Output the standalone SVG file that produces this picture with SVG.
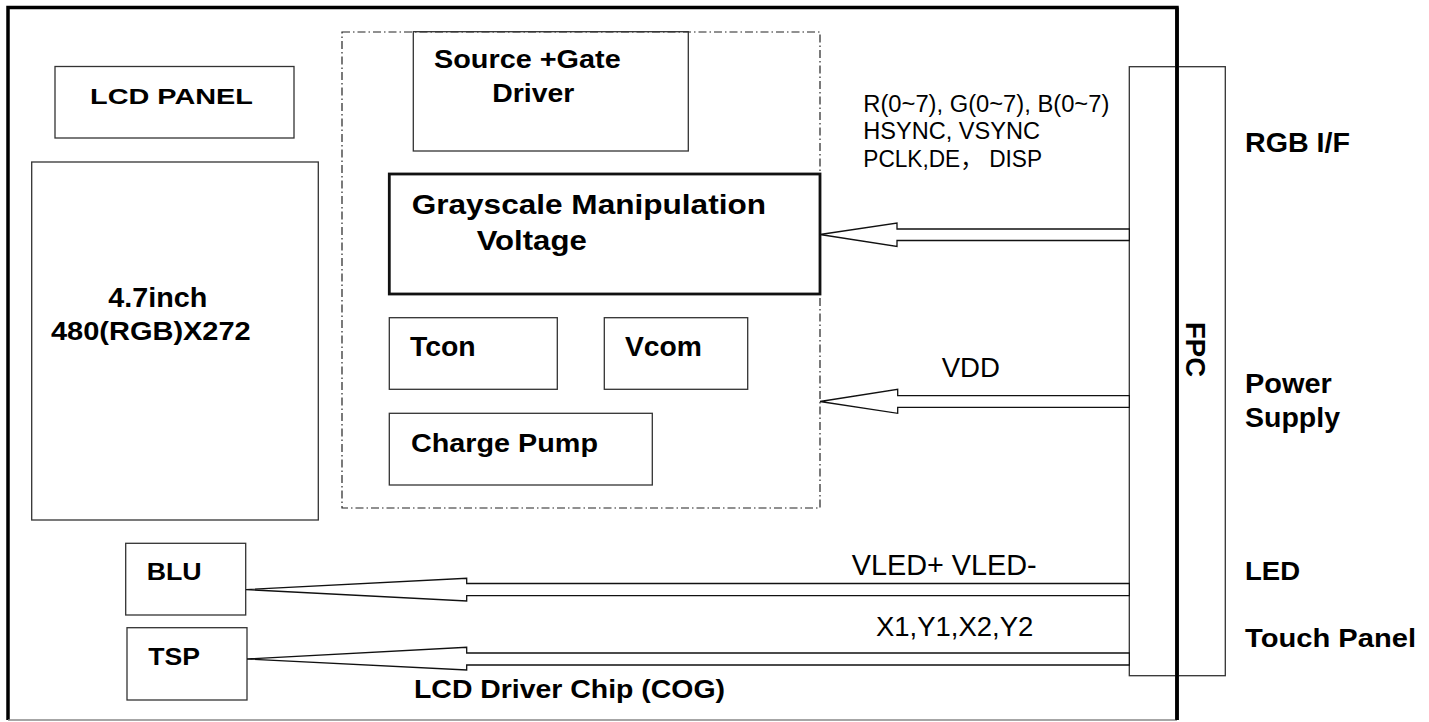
<svg xmlns="http://www.w3.org/2000/svg" width="1429" height="722" viewBox="0 0 1429 722">
<style>
.box{fill:none;stroke:#333;stroke-width:1.3}
.thick{fill:none;stroke:#111;stroke-width:2.8}
.dash{fill:none;stroke:#222;stroke-width:1.2;stroke-dasharray:8 3 1.5 3}
.arrow{fill:#fff;stroke:#111;stroke-width:1.3;stroke-linejoin:miter}
.b{font-family:"Liberation Sans",Arial,sans-serif;font-weight:bold;fill:#000}
.r{font-family:"Liberation Sans",Arial,"Noto Sans CJK SC",sans-serif;fill:#000}
</style>
<rect width="1429" height="722" fill="#fff"/>
<g id="frame">
<path d="M8,720 L8,7.5 L1177,7.5 L1177,720" fill="none" stroke="#000" stroke-width="3.5"/>
<line x1="8" y1="720" x2="1177" y2="720" stroke="#888" stroke-width="1.5"/>
</g>
<g id="driver-chip">
<rect class="dash" x="342" y="32" width="478" height="476"/>
<text class="b" x="414" y="698" font-size="25.6" textLength="311" lengthAdjust="spacingAndGlyphs">LCD Driver Chip (COG)</text>
</g>
<g id="lcd-panel">
<rect class="box" x="55" y="66.5" width="239" height="71.5"/>
<text class="b" x="90" y="104" font-size="22" textLength="163" lengthAdjust="spacingAndGlyphs">LCD PANEL</text>
</g>
<g id="panel">
<rect class="box" x="31.7" y="162" width="286.6" height="358"/>
<text class="b" x="108.3" y="306.7" font-size="28" textLength="99" lengthAdjust="spacingAndGlyphs">4.7inch</text>
<text class="b" x="51" y="340" font-size="26.5" textLength="199.7" lengthAdjust="spacingAndGlyphs">480(RGB)X272</text>
</g>
<g id="source-gate">
<rect class="box" x="413.3" y="31.7" width="275" height="119.3"/>
<text class="b" x="434" y="68.3" font-size="26.5" textLength="186.7" lengthAdjust="spacingAndGlyphs">Source +Gate</text>
<text class="b" x="492.3" y="101.7" font-size="26.5" textLength="82" lengthAdjust="spacingAndGlyphs">Driver</text>
</g>
<g id="grayscale">
<rect class="thick" x="389.3" y="174" width="430.7" height="120"/>
<text class="b" x="411.7" y="214" font-size="27.5" textLength="354.3" lengthAdjust="spacingAndGlyphs">Grayscale Manipulation</text>
<text class="b" x="476.7" y="250" font-size="27.5" textLength="110" lengthAdjust="spacingAndGlyphs">Voltage</text>
</g>
<g id="tcon">
<rect class="box" x="389.3" y="317.7" width="168" height="71.6"/>
<text class="b" x="410" y="356" font-size="28" textLength="65.7" lengthAdjust="spacingAndGlyphs">Tcon</text>
</g>
<g id="vcom">
<rect class="box" x="604.3" y="317.7" width="143.4" height="71.6"/>
<text class="b" x="625" y="356" font-size="28" textLength="77" lengthAdjust="spacingAndGlyphs">Vcom</text>
</g>
<g id="charge-pump">
<rect class="box" x="389.3" y="413.3" width="263" height="71.7"/>
<text class="b" x="411" y="452" font-size="26.5" textLength="187" lengthAdjust="spacingAndGlyphs">Charge Pump</text>
</g>
<g id="blu">
<rect class="box" x="125.7" y="543.3" width="120" height="71.7"/>
<text class="b" x="146.7" y="580" font-size="24.7" textLength="55" lengthAdjust="spacingAndGlyphs">BLU</text>
</g>
<g id="tsp">
<rect class="box" x="127" y="627.7" width="120" height="72.3"/>
<text class="b" x="148.3" y="665" font-size="24.7" textLength="51.7" lengthAdjust="spacingAndGlyphs">TSP</text>
</g>
<g id="fpc">
<rect class="box" x="1129.3" y="66.7" width="96" height="609"/>
<line x1="1177" y1="7.5" x2="1177" y2="720" stroke="#000" stroke-width="3.5"/>
<text class="b" transform="translate(1185.5,349.5) rotate(90)" text-anchor="middle" font-size="27" textLength="55" lengthAdjust="spacingAndGlyphs">FPC</text>
</g>
<g id="side-labels">
<text class="b" x="1245" y="151.7" font-size="28" textLength="105" lengthAdjust="spacingAndGlyphs">RGB I/F</text>
<text class="b" x="1245" y="393.3" font-size="27" textLength="86.7" lengthAdjust="spacingAndGlyphs">Power</text>
<text class="b" x="1245" y="426.7" font-size="27" textLength="95" lengthAdjust="spacingAndGlyphs">Supply</text>
<text class="b" x="1245" y="580" font-size="26.5" textLength="55" lengthAdjust="spacingAndGlyphs">LED</text>
<text class="b" x="1245" y="647.3" font-size="26.5" textLength="171" lengthAdjust="spacingAndGlyphs">Touch Panel</text>
</g>
<g id="connectors">
<polygon class="arrow" points="820,234.5 897,223 897,229 1129.3,229 1129.3,240.5 897,240.5 897,246.5"/>
<polygon class="arrow" points="820,401.5 897.7,389.3 897.7,395.7 1129.3,395.7 1129.3,407.3 897.7,407.3 897.7,413.3"/>
<polygon class="arrow" points="246,589.6 466.7,578.3 466.7,583.5 1129.3,583.5 1129.3,595.7 466.7,595.7 466.7,601"/>
<polygon class="arrow" points="247,659 466.7,647.3 466.7,653 1129.3,653 1129.3,665 466.7,665 466.7,670"/>
<text class="r" x="863.3" y="111.7" font-size="23.5" textLength="246" lengthAdjust="spacingAndGlyphs">R(0~7), G(0~7), B(0~7)</text>
<text class="r" x="863.3" y="139.3" font-size="23.5" textLength="176.7" lengthAdjust="spacingAndGlyphs">HSYNC, VSYNC</text>
<text class="r" x="863.3" y="167.3" font-size="23.5" textLength="178.7" lengthAdjust="spacingAndGlyphs">PCLK,DE， DISP</text>
<text class="r" x="941.7" y="376.7" font-size="27" textLength="58.3" lengthAdjust="spacingAndGlyphs">VDD</text>
<text class="r" x="851.7" y="575" font-size="29" textLength="185" lengthAdjust="spacingAndGlyphs">VLED+ VLED-</text>
<text class="r" x="876" y="636" font-size="27" textLength="157.3" lengthAdjust="spacingAndGlyphs">X1,Y1,X2,Y2</text>
</g>
</svg>
